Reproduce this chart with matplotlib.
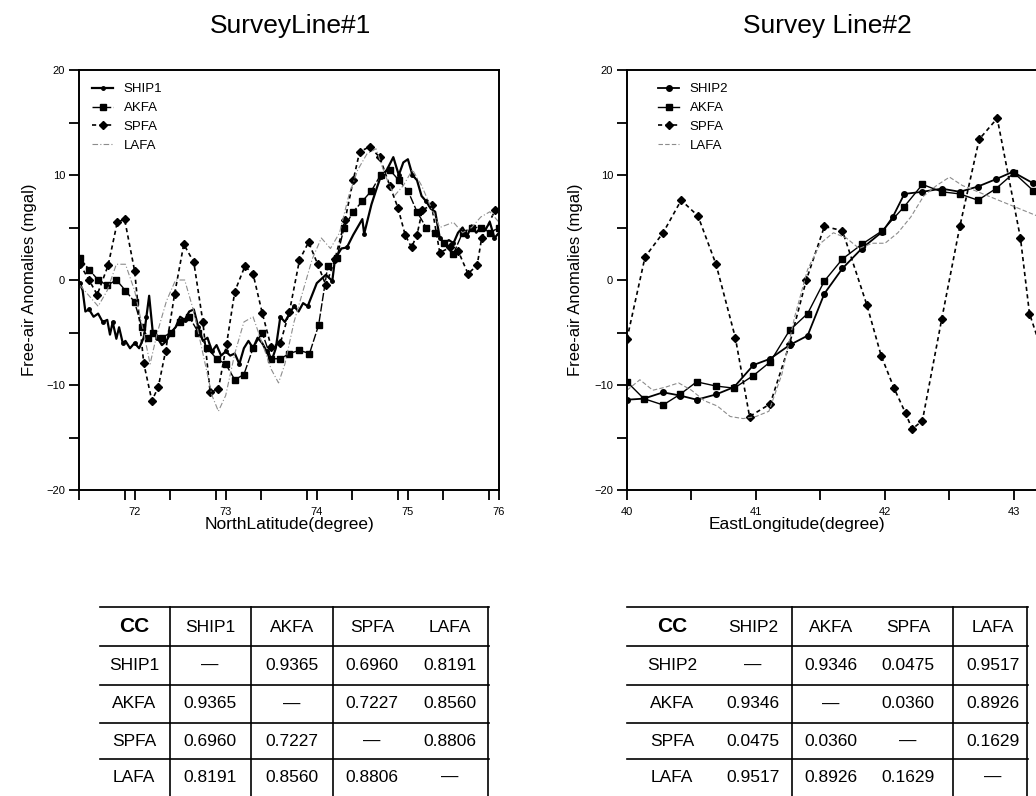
import matplotlib
matplotlib.use("Agg")
import matplotlib.pyplot as plt
import numpy as np

plt.rcParams['font.family'] = ['Liberation Sans', 'DejaVu Sans']

# ---- Survey line 1 (north latitude) ----
ship1_lat = [71.40, 71.43, 71.46, 71.50, 71.55, 71.60, 71.65, 71.70, 71.73, 71.76,
             71.80, 71.83, 71.87, 71.90, 71.95, 72.00, 72.05, 72.10, 72.13, 72.16,
             72.20, 72.25, 72.30, 72.35, 72.40, 72.45, 72.50, 72.55, 72.60, 72.65,
             72.70, 72.75, 72.80, 72.85, 72.90, 72.95, 73.00, 73.05, 73.10, 73.15,
             73.20, 73.25, 73.30, 73.35, 73.40, 73.45, 73.50, 73.55, 73.60, 73.65,
             73.70, 73.75, 73.80, 73.85, 73.90, 74.00, 74.10, 74.17, 74.20, 74.27,
             74.33, 74.40, 74.50, 74.52, 74.60, 74.66, 74.70, 74.77, 74.84, 74.90,
             74.95, 75.00, 75.05, 75.10, 75.15, 75.20, 75.25, 75.30, 75.35, 75.40,
             75.45, 75.50, 75.55, 75.60, 75.65, 75.70, 75.75, 75.80, 75.85, 75.90,
             75.95, 76.00]
ship1_val = [-0.3, -1.0, -3.0, -2.8, -3.5, -3.2, -4.0, -3.8, -5.2, -4.0,
             -5.6, -4.5, -6.0, -5.8, -6.5, -6.0, -6.5, -5.5, -3.5, -1.5,
             -5.0, -5.5, -6.2, -5.8, -5.0, -4.5, -3.5, -3.8, -3.0, -2.8,
             -4.5, -5.8, -5.5, -6.8, -6.2, -7.2, -6.8, -7.2, -7.0, -8.0,
             -6.5, -5.8, -6.5, -5.5, -6.0, -6.8, -7.8, -6.5, -3.5, -4.0,
             -3.2, -2.5, -3.0, -2.2, -2.5, -0.3, 0.5, -0.1, 2.0, 3.0,
             3.1, 4.3, 5.8, 4.4, 7.2, 8.8, 9.8, 10.5, 11.7, 10.0,
             11.2, 11.5, 10.0, 9.5, 8.0, 7.5, 6.8, 6.5, 4.0, 3.5,
             3.8, 3.5, 4.5, 5.0, 4.2, 5.2, 4.5, 5.0, 4.8, 5.5,
             4.0, 4.5]

akfa1_lat = [71.40, 71.50, 71.60, 71.70, 71.80, 71.90, 72.00, 72.08, 72.15, 72.20,
             72.30, 72.40, 72.50, 72.60, 72.70, 72.80, 72.90, 73.00, 73.10, 73.20,
             73.30, 73.40, 73.50, 73.60, 73.70, 73.81, 73.92, 74.02, 74.12, 74.22,
             74.30, 74.40, 74.50, 74.60, 74.70, 74.80, 74.90, 75.00, 75.10, 75.20,
             75.30, 75.40, 75.50, 75.60, 75.70, 75.80, 75.90, 76.00]
akfa1_val = [2.1, 1.0, 0.0, -0.5, 0.0, -1.0, -2.1, -4.5, -5.5, -5.0,
             -5.5, -5.0, -4.0, -3.5, -5.0, -6.5, -7.5, -8.0, -9.5, -9.0,
             -6.5, -5.0, -7.5, -7.5, -7.0, -6.7, -7.0, -4.3, 1.3, 2.1,
             5.0, 6.5, 7.5, 8.5, 10.0, 10.5, 9.5, 8.5, 6.5, 5.0,
             4.5, 3.5, 2.5, 4.5, 5.0, 5.0, 4.5, 5.0]

spfa1_lat = [71.40, 71.50, 71.59, 71.71, 71.81, 71.89, 72.00, 72.10, 72.19, 72.26,
             72.34, 72.44, 72.54, 72.65, 72.75, 72.83, 72.92, 73.01, 73.10, 73.21,
             73.30, 73.40, 73.50, 73.60, 73.70, 73.81, 73.91, 74.01, 74.10, 74.20,
             74.31, 74.40, 74.47, 74.58, 74.69, 74.80, 74.89, 74.97, 75.04, 75.10,
             75.16, 75.26, 75.35, 75.46, 75.55, 75.66, 75.76, 75.81, 75.96]
spfa1_val = [1.5, 0.0, -1.4, 1.4, 5.5, 5.8, 0.9, -7.9, -11.5, -10.2,
             -6.8, -1.3, 3.4, 1.7, -4.0, -10.7, -10.4, -6.1, -1.1, 1.3,
             0.6, -3.1, -6.4, -6.0, -3.0, 1.9, 3.6, 1.5, -0.5, 2.0,
             5.7, 9.5, 12.2, 12.7, 11.7, 9.0, 6.9, 4.3, 3.1, 4.3,
             6.7, 7.1, 2.6, 3.1, 2.8, 0.6, 1.4, 4.0, 6.7]

lafa1_lat = [71.40, 71.50, 71.60, 71.70, 71.80, 71.90, 72.00, 72.10, 72.17, 72.25,
             72.35, 72.45, 72.55, 72.65, 72.75, 72.85, 72.92, 73.00, 73.10, 73.20,
             73.30, 73.40, 73.50, 73.58, 73.65, 73.75, 73.85, 73.95, 74.05, 74.15,
             74.25, 74.35, 74.45, 74.55, 74.65, 74.75, 74.85, 74.95, 75.05, 75.15,
             75.25, 75.35, 75.50, 75.60, 75.70, 75.80, 75.90, 76.00]
lafa1_val = [-0.5, -1.5, -2.5, -1.0, 1.5, 1.5, -1.0, -5.0, -8.0, -5.0,
             -2.0, 0.0, 0.0, -3.0, -7.0, -11.0, -12.5, -11.0, -7.0, -4.0,
             -3.5, -6.0, -8.5, -9.8, -8.0, -4.0, -1.0, 2.0, 4.0, 3.0,
             4.5, 8.0, 10.5, 12.0, 12.5, 10.0, 8.0, 9.0, 10.5, 9.0,
             7.0, 5.0, 5.5, 4.5, 5.0, 6.0, 6.5, 5.5]

# ---- Survey line 2 (east longitude) ----
ship2_lon = [40.00, 40.13, 40.28, 40.41, 40.54, 40.69, 40.83, 40.98, 41.11, 41.26,
             41.40, 41.53, 41.67, 41.82, 41.98, 42.06, 42.15, 42.29, 42.44, 42.58,
             42.72, 42.86, 42.99, 43.15, 43.30]
ship2_val = [-11.4, -11.3, -10.7, -11.0, -11.4, -10.9, -10.2, -8.1, -7.5, -6.2,
             -5.3, -1.3, 1.1, 3.0, 4.6, 6.0, 8.2, 8.4, 8.7, 8.4,
             8.9, 9.6, 10.3, 9.2, 8.5]

akfa2_lon = [40.00, 40.13, 40.28, 40.41, 40.54, 40.69, 40.83, 40.98, 41.11, 41.26,
             41.40, 41.53, 41.67, 41.82, 41.98, 42.15, 42.29, 42.44, 42.58, 42.72,
             42.86, 43.00, 43.15, 43.30]
akfa2_val = [-9.7, -11.3, -11.9, -10.9, -9.7, -10.1, -10.3, -9.1, -7.8, -4.8,
             -3.2, -0.1, 2.0, 3.4, 4.7, 7.0, 9.1, 8.4, 8.2, 7.6,
             8.7, 10.2, 8.5, 8.0]

spfa2_lon = [40.00, 40.14, 40.28, 40.42, 40.55, 40.69, 40.84, 40.95, 41.11, 41.26,
             41.39, 41.53, 41.67, 41.86, 41.97, 42.07, 42.16, 42.21, 42.29, 42.44,
             42.58, 42.73, 42.87, 43.05, 43.12, 43.25]
spfa2_val = [-5.6, 2.2, 4.5, 7.6, 6.1, 1.5, -5.5, -13.0, -11.8, -6.1,
             0.0, 5.1, 4.7, -2.4, -7.2, -10.3, -12.7, -14.2, -13.4, -3.7,
             5.1, 13.4, 15.4, 4.0, -3.2, -8.0]

lafa2_lon = [40.00, 40.10, 40.20, 40.30, 40.40, 40.50, 40.60, 40.70, 40.80, 40.90,
             41.00, 41.10, 41.20, 41.30, 41.40, 41.50, 41.60, 41.70, 41.80, 41.90,
             42.00, 42.10, 42.20, 42.30, 42.40, 42.50, 42.60, 42.70, 42.80, 42.90,
             43.00, 43.10, 43.20, 43.30]
lafa2_val = [-10.5, -9.5, -10.5, -10.2, -9.8, -10.5, -11.5, -12.0, -13.0, -13.2,
             -13.0, -12.5, -9.0, -3.5, 1.0, 3.5, 4.5, 4.0, 3.0, 3.5,
             3.5, 4.5, 6.0, 8.0, 9.0, 9.8, 9.0, 8.5, 8.0, 7.5,
             7.0, 6.5, 6.0, 5.8]

# ---- correlation tables ----
names1 = ["SHIP1", "AKFA", "SPFA", "LAFA"]
cc1 = [["\u2014", "0.9365", "0.6960", "0.8191"],
       ["0.9365", "\u2014", "0.7227", "0.8560"],
       ["0.6960", "0.7227", "\u2014", "0.8806"],
       ["0.8191", "0.8560", "0.8806", "\u2014"]]
names2 = ["SHIP2", "AKFA", "SPFA", "LAFA"]
cc2 = [["\u2014", "0.9346", "0.0475", "0.9517"],
       ["0.9346", "\u2014", "0.0360", "0.8926"],
       ["0.0475", "0.0360", "\u2014", "0.1629"],
       ["0.9517", "0.8926", "0.1629", "\u2014"]]


def style_axes(ax, xlim, xmajor, xlabel):
    ax.set_xlim(*xlim)
    ax.set_ylim(-20, 20)
    ax.set_yticks([-20, -10, 0, 10, 20])
    ax.set_yticks([-15, -5, 5, 15], minor=True)
    ax.set_xticks(xmajor)
    ax.set_xticks(np.arange(xlim[0], xlim[1] + 0.01, 0.5), minor=True)
    ax.tick_params(axis='both', which='both', direction='out', labelsize=8,
                   top=False, right=False, width=1.3)
    ax.tick_params(axis='y', which='both', length=7, pad=3)
    ax.tick_params(axis='x', which='both', length=7, pad=5)
    for s in ax.spines.values():
        s.set_linewidth(1.4)
    ax.set_xlabel(xlabel, fontsize=12.5)
    ax.xaxis.set_label_coords(0.5, -0.065)


fig = plt.figure(figsize=(10.36, 7.96), dpi=100)

# left chart
ax1 = fig.add_axes([79 / 1036, 1 - 490 / 796, 420 / 1036, 420 / 796])
ax1.plot(ship1_lat, ship1_val, '-', color='black', lw=1.6, marker='o', ms=2.5,
         markevery=3, label='SHIP1')
ax1.plot(akfa1_lat, akfa1_val, '-', color='black', lw=1.0, marker='s', ms=4,
         dashes=(6, 1.5), label='AKFA')
ax1.plot(spfa1_lat, spfa1_val, color='black', lw=1.2, dashes=(2.5, 2), marker='D',
         ms=4, label='SPFA')
ax1.plot(lafa1_lat, lafa1_val, color='0.55', lw=0.8, dashes=(5, 2, 1, 2),
         label='LAFA')
style_axes(ax1, (71.39, 76.0), [72, 73, 74, 75, 76], 'NorthLatitude(degree)')
ax1.set_ylabel('Free-air Anomalies (mgal)', fontsize=12)
ax1.yaxis.set_label_coords(-0.1, 0.5)
ax1.legend(loc='upper left', frameon=False, fontsize=9.5, handlelength=1.6,
           labelspacing=0.5, borderaxespad=0.6)

# right chart (runs past the figure edge like the scan)
ax2 = fig.add_axes([627 / 1036, 1 - 490 / 796, 516 / 1036, 420 / 796])
ax2.plot(ship2_lon, ship2_val, '-', color='black', lw=1.3, marker='o', ms=4,
         label='SHIP2')
ax2.plot(akfa2_lon, akfa2_val, '-', color='black', lw=1.0, marker='s', ms=4,
         label='AKFA')
ax2.plot(spfa2_lon, spfa2_val, color='black', lw=1.2, dashes=(2.5, 2), marker='D',
         ms=4, label='SPFA')
ax2.plot(lafa2_lon, lafa2_val, color='0.55', lw=0.8, dashes=(4, 2),
         label='LAFA')
style_axes(ax2, (40.0, 44.0), [40, 41, 42, 43], 'EastLongitude(degree)')
ax2.set_ylabel('Free-air Anomalies (mgal)', fontsize=12)
ax2.yaxis.set_label_coords(-0.085, 0.5)
ax2.legend(loc='upper left', frameon=False, fontsize=9.5, handlelength=1.6,
           labelspacing=0.5, borderaxespad=0.6, bbox_to_anchor=(0.035, 1.0))
ax2.xaxis.set_label_coords(0.33, -0.065)

fig.text(290 / 1036, 1 - 26 / 796, 'SurveyLine#1', ha='center', va='center',
         fontsize=19)
fig.text(827 / 1036, 1 - 26 / 796, 'Survey Line#2', ha='center', va='center',
         fontsize=19)

# tables, drawn in a pixel-space overlay
tab = fig.add_axes([0, 0, 1, 1])
tab.set_xlim(0, 1036)
tab.set_ylim(796, 0)
tab.axis('off')

row_y = [627, 665, 704, 741, 777]
hlines = [607, 646, 685, 723, 759]


def draw_table(names, cc, col_x, x0, x1, vlines):
    tab.text(col_x[0], row_y[0], 'CC', ha='center', va='center', fontsize=15,
             fontweight='bold')
    for j, n in enumerate(names):
        tab.text(col_x[j + 1], row_y[0], n, ha='center', va='center', fontsize=12.5)
    for i, n in enumerate(names):
        tab.text(col_x[0], row_y[i + 1], n, ha='center', va='center', fontsize=12.5)
        for j, v in enumerate(cc[i]):
            tab.text(col_x[j + 1], row_y[i + 1], v, ha='center', va='center',
                     fontsize=12.5)
    for y in hlines:
        tab.plot([x0, x1], [y, y], color='black', lw=1.2)
    for x in vlines:
        tab.plot([x, x], [607, 796], color='black', lw=1.2)


draw_table(names1, cc1, [134, 210, 292, 372, 450], 100, 489, [170, 251, 333, 488])
draw_table(names2, cc2, [672, 753, 831, 908, 993], 627, 1028, [792, 953, 1027])

fig.savefig('out.png', dpi=100)
